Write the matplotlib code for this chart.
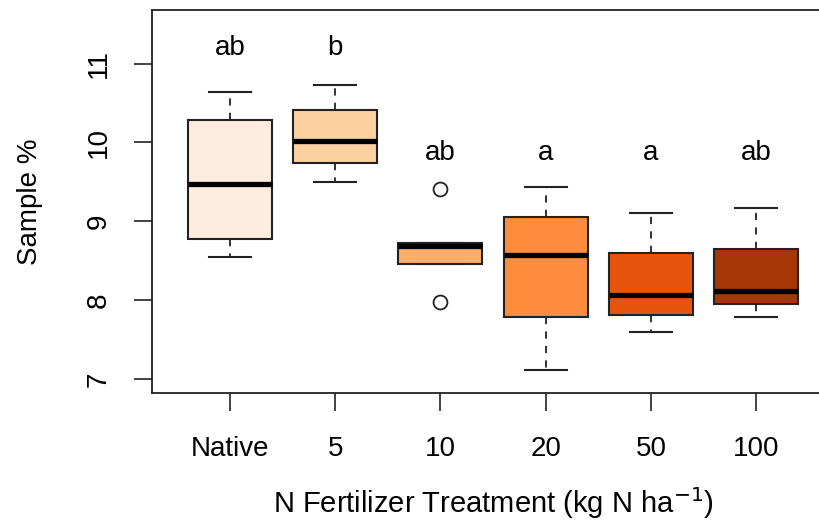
import matplotlib.pyplot as plt

plt.rcParams['font.family'] = ['Liberation Sans', 'DejaVu Sans']

# treatment groups and box statistics
groups = ['Native', '5', '10', '20', '50', '100']
whis_lo = [8.54, 9.50, 8.46, 7.11, 7.59, 7.78]
q1 = [8.78, 9.74, 8.46, 7.78, 7.81, 7.95]
med = [9.47, 10.02, 8.69, 8.57, 8.06, 8.12]
q3 = [10.29, 10.41, 8.72, 9.05, 8.60, 8.65]
whis_hi = [10.64, 10.73, 8.72, 9.43, 9.11, 9.17]
outliers = [[], [], [9.41, 7.97], [], [], []]
letters = ['ab', 'b', 'ab', 'a', 'a', 'ab']
letter_y = [11.2, 11.2, 9.86, 9.86, 9.86, 9.86]
colors = ['#FEEDDE', '#FDD0A2', '#FDAE6B', '#FD8D3C', '#E6550D', '#A63603']

stats = []
for i in range(len(groups)):
    stats.append({'whislo': whis_lo[i], 'q1': q1[i], 'med': med[i],
                  'q3': q3[i], 'whishi': whis_hi[i], 'fliers': outliers[i]})

fig = plt.figure(figsize=(8.2, 5.31), dpi=100)
ax = fig.add_axes([152 / 820, 138 / 531, 682 / 820, 383 / 531])

pos = list(range(1, len(groups) + 1))
bp = ax.bxp(stats, positions=pos, widths=0.8, patch_artist=True,
            boxprops=dict(edgecolor='#222222', linewidth=1.5),
            medianprops=dict(color='black', linewidth=3.8, solid_capstyle='butt'),
            whiskerprops=dict(color='#222222', linewidth=1.3, linestyle=(0, (4, 4))),
            capprops=dict(color='#222222', linewidth=1.5),
            capwidths=0.4,
            flierprops=dict(marker='o', markerfacecolor='none', markeredgecolor='#222222',
                            markersize=10, markeredgewidth=1.3))
for patch, c in zip(bp['boxes'], colors):
    patch.set_facecolor(c)

for x, t, y in zip(pos, letters, letter_y):
    ax.text(x, y, t, ha='center', va='center', fontsize=20)

ax.set_xlim(0.26, 6.74)
ax.set_ylim(6.82, 11.68)
ax.set_xticks(pos)
ax.set_xticklabels(groups)
ax.set_yticks([7, 8, 9, 10, 11])
ax.set_yticklabels(['7', '8', '9', '10', '11'], rotation=90, va='center')
ax.tick_params(axis='both', length=13, width=1.2, color='#222222', labelsize=20)
ax.tick_params(axis='x', pad=18)
ax.tick_params(axis='y', pad=16)
for s in ax.spines.values():
    s.set_linewidth(1.3)
    s.set_color('#222222')

ax.set_ylabel('Sample %', fontsize=20, va='center')
ax.yaxis.set_label_coords((30 - 152) / 682, 0.5)
ax.set_xlabel('N Fertilizer Treatment (kg N ha$^{-1}$)', fontsize=21, va='baseline')
ax.xaxis.set_label_coords(0.5, (393 - 513) / 383)

fig.savefig('out.png', dpi=100)
